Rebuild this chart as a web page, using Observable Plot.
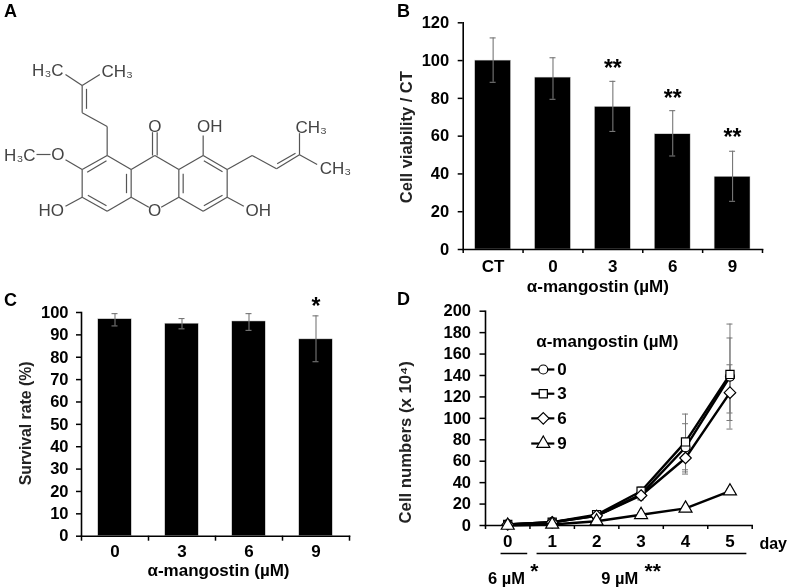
<!DOCTYPE html>
<html><head><meta charset="utf-8">
<script src="https://cdn.jsdelivr.net/npm/d3@7"></script>
<script src="https://cdn.jsdelivr.net/npm/@observablehq/plot@0.6"></script>
<style>
html,body{margin:0;padding:0;background:#fff}
#fig{position:relative;width:791px;height:588px;overflow:hidden;background:#fff}
#fig svg{position:absolute;background:transparent;filter:blur(0.5px);overflow:visible}
</style></head><body><div id="fig"></div>
<script>
// Panel B
const catsB = ["CT","0","3","6","9"];
const valsB = [100,91,75.5,61,38.5];
const hiB = [112,101.5,89,73.5,52];
const loB = [88.5,79.5,62.5,49.5,25.5];
const starsB = ["","","**","**","**"];
const starYB = [null,null,96,80,59];
// Panel C
const catsC = ["0","3","6","9"];
const valsC = [97,95,96,88];
const hiC = [99.5,97.3,99.5,98.5];
const loC = [94,92.7,92,78];
const starsC = ["","","","*"];
const starYC = [null,null,null,102.5];
// Panel D
const days = [0,1,2,3,4,5];
const series0 = [1,3,9,29,73,139];
const series3 = [1,3,10,32,78,141];
const series6 = [1,3,9,28,63,124];
const series9 = [0,1,4,10,16,32];
const hi0 = [1.5,4,11,34,95,175], lo0 = [.5,2,7,24,50,105];
const hi3 = [1.5,4,12,36,104,188], lo3 = [.5,2,8,24,52,90];
const hi6 = [1.5,4,11,32,80,150], lo6 = [.5,2,7,24,48,98];
const hi9 = [.5,1.5,5,12,18,34], lo9 = [0,.5,3,8,14,30];
const doses = ["0","3","6","9"];
const symbols = ["circle","square2","diamond2","triangle2"];
const legendYD = [145.6,123,100,76.5];
// Panel A: structural formula, in drawing units
const bonds = [
 [320,465,392,507],[392,507,392,590],[392,590,320,632],[320,632,245,590],[245,590,245,507],[245,507,320,465],
 [392,507,463,465],[463,465,535,507],[535,507,535,590],[392,590,445,620],[535,590,482,620],
 [535,507,608,465],[608,465,680,507],[680,507,680,590],[680,590,608,632],[608,632,535,590],
 [260,515,318,481],[378,520,378,578],[262,584,318,616],
 [610,481,666,514],[548,520,548,578],[610,616,666,584],
 [456,395,456,465],[470,395,470,465],[608,405,608,465],
 [320,465,320,378],[320,378,245,337],[245,337,245,255],[258,325,258,265],[245,255,195,222],[245,255,298,222],
 [680,507,755,465],[755,465,828,505],[828,505,897,463],[830,490,885,458],[897,463,897,398],[897,463,950,492],
 [108,462,150,462],[195,478,245,507],[245,590,195,617],[680,590,730,617]
];
const atoms = [
 ["H₃C",142,210],["CH₃",350,212],["O",463,378],["OH",628,378],["CH₃",932,380],["H₃C",58,464],
 ["O",172,462],["CH₃",1005,505],["HO",152,630],["O",462,630],["OH",773,630]
];
const panelLetters = [["A",10,11],["B",403,11],["C",10,300],["D",403,299]];

const FONT = "'Liberation Sans',Arial,sans-serif";
const fig = document.getElementById("fig");
function place(el,left,top){ el.style.left=left+"px"; el.style.top=top+"px"; fig.appendChild(el); }
const base = {style:{fontFamily:FONT,background:"transparent",color:"#000"}};
const bold = (o)=>({fontWeight:"bold",fill:"#000",...o});

function barPanel(cfg){
  const rows = cfg.cats.map((c,i)=>({c,v:cfg.vals[i],hi:cfg.hi[i],lo:cfg.lo[i],s:cfg.stars[i],sy:cfg.starY[i]}));
  const innerW = cfg.width-cfg.ml-cfg.mr, innerH = cfg.height-cfg.mt-cfg.mb;
  const step = innerW/cfg.cats.length, ymax = cfg.yticks[cfg.yticks.length-1];
  const tickV = -cfg.xtick*ymax/innerH;
  const capInset = (step*(1-cfg.pad)-6)/2;
  return Plot.plot({...base,width:cfg.width,height:cfg.height,marginLeft:cfg.ml,marginRight:cfg.mr,marginTop:cfg.mt,marginBottom:cfg.mb,
    x:{type:"band",domain:cfg.cats,paddingInner:cfg.pad,paddingOuter:cfg.pad/2,round:false,label:null},
    y:{domain:[0,ymax],label:null},
    marks:[
      Plot.barY(rows,{x:"c",y:"v",fill:"#000",stroke:"#ddd",strokeWidth:0.5}),
      Plot.ruleX(rows,{x:"c",y1:"lo",y2:"hi",stroke:"#777",strokeWidth:1.1}),
      Plot.tickY(rows,{x:"c",y:"hi",stroke:"#777",strokeWidth:1.1,insetLeft:capInset,insetRight:capInset}),
      Plot.tickY(rows,{x:"c",y:"lo",stroke:"#777",strokeWidth:1.1,insetLeft:capInset,insetRight:capInset}),
      Plot.frame({anchor:"left",stroke:"#000",strokeWidth:1.6}),
      Plot.frame({anchor:"bottom",stroke:"#000",strokeWidth:1.6}),
      Plot.axisY({ticks:cfg.yticks,tickSize:5,tickPadding:cfg.tp,fontSize:16.5,fontWeight:"bold",strokeWidth:1.5,label:null}),
      Plot.axisX({tickSize:0,tickPadding:cfg.xp,fontSize:17,fontWeight:"bold",label:null}),
      Plot.ruleX(cfg.cats,{x:d=>d,dx:-step/2,y1:0,y2:tickV,stroke:"#000",strokeWidth:1.5}),
      Plot.ruleX(cfg.cats.slice(-1),{x:d=>d,dx:step/2,y1:0,y2:tickV,stroke:"#000",strokeWidth:1.5}),
      Plot.text(rows.filter(d=>d.s),{x:"c",y:"sy",text:"s",fontSize:cfg.starSize,lineAnchor:"middle",...bold({})}),
      Plot.text([cfg.xtitle],{text:d=>d,frameAnchor:"bottom",dy:cfg.xdy,dx:cfg.xdx,lineAnchor:"middle",fontSize:17,...bold({})}),
      Plot.text([cfg.ytitle],{text:d=>d,frameAnchor:"left",textAnchor:"middle",dx:cfg.ydx,dy:cfg.ydy,rotate:-90,lineAnchor:"middle",fontSize:cfg.yfs,fill:"#222",fontWeight:"bold"})
    ]});
}

// A
place(Plot.plot({...base,width:390,height:285,margin:0,
  x:{domain:[0,1170],label:null,axis:null},y:{domain:[855,0],label:null,axis:null},
  marks:[
    Plot.link(bonds,{x1:d=>d[0],y1:d=>d[1],x2:d=>d[2],y2:d=>d[3],stroke:"#555",strokeWidth:1.2}),
    Plot.text(atoms,{x:d=>d[1],y:d=>d[2],text:d=>d[0],fontSize:17,fill:"#444",lineAnchor:"middle",style:"letter-spacing:0.6px"})
  ]}),0,0);

// B
place(barPanel({cats:catsB,vals:valsB,hi:hiB,lo:loB,stars:starsB,starY:starYB,yticks:d3.range(0,121,20),
  width:401,height:300,ml:72.7,mr:29,mt:22.3,mb:51,pad:.4,tp:9,xp:10,xtick:4,starSize:23,
  xtitle:"α-mangostin (µM)",xdy:37,xdx:-15,ytitle:"Cell viability / CT",ydx:-56,ydy:1,yfs:16.5}),390,0);

// C
place(barPanel({cats:catsC,vals:valsC,hi:hiC,lo:loC,stars:starsC,starY:starYC,yticks:d3.range(0,101,10),
  width:390,height:303,ml:81,mr:41,mt:27,mb:52.3,pad:.5,tp:8,xp:9,xtick:5,starSize:23,
  xtitle:"α-mangostin (µM)",xdy:34,xdx:3,ytitle:"Survival rate (%)",ydx:-56,ydy:-1,yfs:15.8}),0,285);

// D
const allD = [series0,series3,series6,series9];
const hiD = [hi0,hi3,hi6,hi9], loD = [lo0,lo3,lo6,lo9];
const rowsD = doses.flatMap((g,k)=>days.map((d,i)=>({g,sym:symbols[k],d,v:allD[k][i],hi:hiD[k][i],lo:loD[k][i]})));
const legendD = doses.map((g,k)=>({g,sym:symbols[k],y:legendYD[k]}));
const capD = 3/44.45;
const edges = d3.range(-.5,6,1);
const radii = {circle:4.5,square2:5.2,diamond2:5.2,triangle2:6.2};
const mark = (data,o)=>Plot.dot(data,{symbol:"sym",fill:"#fff",stroke:"#000",strokeWidth:1.2,r:d=>radii[d.sym],sort:null,...o});
place(Plot.plot({...base,width:401,height:303,marginLeft:95,marginRight:39.3,marginTop:25.7,marginBottom:63,
  x:{domain:[-.5,5.5],label:null},y:{domain:[0,200],label:null},
  symbol:{type:"identity"},r:{type:"identity"},
  marks:[
    Plot.ruleX(rowsD,{x:"d",y1:"lo",y2:"hi",stroke:"#777",strokeWidth:1}),
    Plot.ruleY(rowsD,{x1:d=>d.d-capD,x2:d=>d.d+capD,y:"hi",stroke:"#777",strokeWidth:1}),
    Plot.ruleY(rowsD,{x1:d=>d.d-capD,x2:d=>d.d+capD,y:"lo",stroke:"#777",strokeWidth:1}),
    Plot.frame({anchor:"left",stroke:"#000",strokeWidth:1.6}),
    Plot.frame({anchor:"bottom",stroke:"#000",strokeWidth:1.6}),
    Plot.axisY({ticks:d3.range(0,201,20),tickSize:5.5,tickPadding:9,fontSize:16.5,fontWeight:"bold",strokeWidth:1.5,label:null}),
    Plot.axisX({ticks:edges,tickSize:4,tickFormat:()=>"",strokeWidth:1.5,label:null}),
    Plot.axisX({ticks:days,tickSize:0,tickPadding:9,fontSize:17,fontWeight:"bold",label:null,tickFormat:d=>String(d)}),
    Plot.line(rowsD,{x:"d",y:"v",z:"g",stroke:"#000",strokeWidth:2.4}),
    mark(rowsD,{x:"d",y:"v"}),
    // legend
    Plot.ruleY(legendD,{x1:.54,x2:1.06,y:"y",stroke:"#000",strokeWidth:2.2}),
    mark(legendD,{x:.8,y:"y"}),
    Plot.text(legendD,{x:1.22,y:"y",text:"g",fontSize:17,lineAnchor:"middle",...bold({})}),
    Plot.text(["α-mangostin (µM)"],{x:2.24,y:172,text:d=>d,fontSize:17,lineAnchor:"middle",...bold({})}),
    // below the axis
    Plot.text(["day"],{text:d=>d,frameAnchor:"bottom-right",dx:21,dy:18,lineAnchor:"middle",textAnchor:"middle",fontSize:16,...bold({})}),
    Plot.ruleY([0],{x1:-.15,x2:.45,dy:28,stroke:"#000",strokeWidth:1.5}),
    Plot.ruleY([0],{x1:.66,x2:5.38,dy:28,stroke:"#000",strokeWidth:1.5}),
    Plot.text(["6 µM"],{x:-.03,y:0,dy:53,text:d=>d,fontSize:16.5,lineAnchor:"middle",...bold({})}),
    Plot.text(["*"],{x:.6,y:0,dy:46,text:d=>d,fontSize:21,lineAnchor:"middle",...bold({})}),
    Plot.text(["9 µM"],{x:2.52,y:0,dy:53,text:d=>d,fontSize:16.5,lineAnchor:"middle",...bold({})}),
    Plot.text(["**"],{x:3.26,y:0,dy:46,text:d=>d,fontSize:21,lineAnchor:"middle",...bold({})}),
    Plot.text(["Cell numbers (x 10⁴)"],{text:d=>d,frameAnchor:"left",textAnchor:"middle",dx:-80,dy:24,rotate:-90,lineAnchor:"middle",fontSize:16.7,fill:"#222",fontWeight:"bold"})
  ]}),390,285);

// Panel letters
place(Plot.plot({...base,width:791,height:588,margin:0,
  x:{domain:[0,791],axis:null,label:null},y:{domain:[588,0],axis:null,label:null},
  marks:[Plot.text(panelLetters,{x:d=>d[1],y:d=>d[2],text:d=>d[0],fontSize:18,lineAnchor:"middle",...bold({})})]}),0,0);
</script></body></html>
